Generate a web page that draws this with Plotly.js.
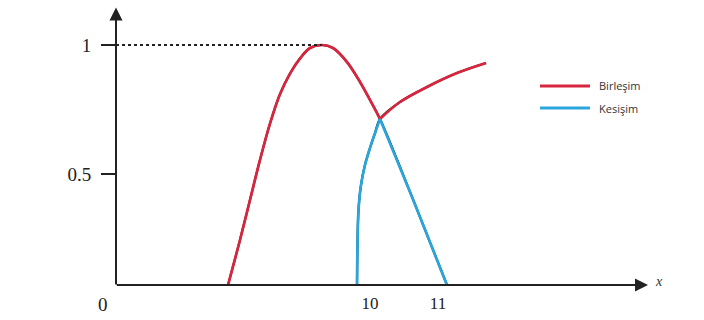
<!DOCTYPE html>
<html>
<head>
<meta charset="utf-8">
<script src="https://cdn.plot.ly/plotly-3.0.1.min.js"></script>
<style>html,body{margin:0;padding:0;background:#fff;}#chart{width:704px;height:320px;}</style>
</head>
<body>
<div id="chart"></div>
<script>
// Set A (first fuzzy set)
var setA_x = [7.912, 8.088, 8.235, 8.382, 8.529, 8.676, 8.824, 8.971, 9.118, 9.294, 9.456, 9.662, 9.853, 10.0, 10.147, 10.618, 11.132];
var setA_y = [0, 0.1875, 0.354, 0.521, 0.672, 0.795, 0.881, 0.944, 0.9875, 1.0, 0.9875, 0.929, 0.846, 0.771, 0.692, 0.367, 0];
// Set B (second fuzzy set)
var setB_x = [9.809, 9.816, 9.831, 9.868, 9.926, 10.0, 10.074, 10.147, 10.441, 10.838, 11.279, 11.706];
var setB_y = [0, 0.167, 0.313, 0.417, 0.5, 0.571, 0.633, 0.692, 0.7625, 0.825, 0.883, 0.925];
// index of the crossing point in each set
var crossA = 14, crossB = 7;
var peakIdx = 9;
var seriesNames = ["Birleşim", "Kesişim"];
var xTickVals = [10, 11];
var xTickText = ["10", "11"];
var yTickVals = [0.4625, 1];
var yTickText = ["0.5", "1"];
var originLabel = "0";
var xAxisLabel = "x";

var red = "#d9263f", blue = "#2aa6dc";

// union: A up to crossing, then B after; intersection: B up to crossing, then A after
// (a null splits each at the sharp crossing so the spline keeps the corner)
var unionX = setA_x.slice(0, crossA + 1).concat([null], setB_x.slice(crossB));
var unionY = setA_y.slice(0, crossA + 1).concat([null], setB_y.slice(crossB));
var interX = setB_x.slice(0, crossB + 1).concat([null], setA_x.slice(crossA));
var interY = setB_y.slice(0, crossB + 1).concat([null], setA_y.slice(crossA));

var x0 = 6.2647, x1 = 14.1176;
var yTop = 280 / 240;
function px(v) { return (v - 116) / 534; }
function py(v) { return (285 - v) / 280; }

var common = {mode: "lines", connectgaps: false, hoverinfo: "skip", showlegend: false};
var traces = [
  Object.assign({x: setA_x, y: setA_y, line: {color: "#111", width: 2.2, shape: "spline", smoothing: 1}}, common),
  Object.assign({x: setB_x, y: setB_y, line: {color: "#111", width: 2.2, shape: "spline", smoothing: 1}}, common),
  Object.assign({x: unionX, y: unionY, name: seriesNames[0], line: {color: red, width: 2.7, shape: "spline", smoothing: 1}}, common),
  Object.assign({x: interX, y: interY, name: seriesNames[1], line: {color: blue, width: 2.7, shape: "spline", smoothing: 1}}, common)
];

var layout = {
  width: 704, height: 320,
  margin: {l: 116, r: 54, t: 5, b: 35},
  paper_bgcolor: "#fff", plot_bgcolor: "rgba(0,0,0,0)",
  showlegend: false,
  xaxis: {range: [x0, x1], showgrid: false, zeroline: false, showline: false,
    tickvals: xTickVals, ticktext: xTickText, ticks: "", ticklabelstandoff: 6,
    tickfont: {family: "Liberation Serif", size: 17, color: "#222"}},
  yaxis: {range: [0, yTop], showgrid: false, zeroline: false, showline: false,
    tickvals: yTickVals, ticktext: yTickText, ticks: "outside", ticklen: 14, tickwidth: 2, tickcolor: "#222",
    ticklabelstandoff: 6,
    tickfont: {family: "Liberation Serif", size: 19, color: "#222"}},
  shapes: [
    {type: "line", xref: "x", yref: "y", x0: x0, x1: setA_x[peakIdx], y0: 1, y1: 1, line: {color: "#222", width: 2, dash: "dot"}},
    {type: "line", xref: "paper", yref: "paper", x0: px(540), x1: px(590), y0: py(86), y1: py(86), line: {color: red, width: 3}},
    {type: "line", xref: "paper", yref: "paper", x0: px(540), x1: px(590), y0: py(108), y1: py(108), line: {color: blue, width: 3}}
  ],
  annotations: [
    {x: 14.088, y: 0, ax: x0 - 0.01, ay: 0, xref: "x", yref: "y", axref: "x", ayref: "y", text: "", showarrow: true, arrowhead: 2, arrowsize: 1.3, arrowwidth: 2, arrowcolor: "#222"},
    {x: x0, y: yTop - 0.01, ax: x0, ay: -0.004, xref: "x", yref: "y", axref: "x", ayref: "y", text: "", showarrow: true, arrowhead: 2, arrowsize: 1.3, arrowwidth: 2, arrowcolor: "#222"},
    {x: px(103), y: py(304), xref: "paper", yref: "paper", xanchor: "center", yanchor: "middle", text: originLabel, showarrow: false, font: {family: "Liberation Serif", size: 19, color: "#222"}},
    {x: px(659), y: py(281), xref: "paper", yref: "paper", xanchor: "center", yanchor: "middle", text: "<i>" + xAxisLabel + "</i>", showarrow: false, font: {family: "Liberation Serif", size: 14, color: "#333"}},
    {x: px(597), y: py(86), xref: "paper", yref: "paper", xanchor: "left", yanchor: "middle", text: seriesNames[0], showarrow: false, font: {family: "Open Sans", size: 11, color: "#333"}},
    {x: px(597), y: py(108), xref: "paper", yref: "paper", xanchor: "left", yanchor: "middle", text: seriesNames[1], showarrow: false, font: {family: "Open Sans", size: 11, color: "#333"}}
  ]
};

Plotly.newPlot("chart", traces, layout, {displayModeBar: false, staticPlot: true});
</script>
</body>
</html>
